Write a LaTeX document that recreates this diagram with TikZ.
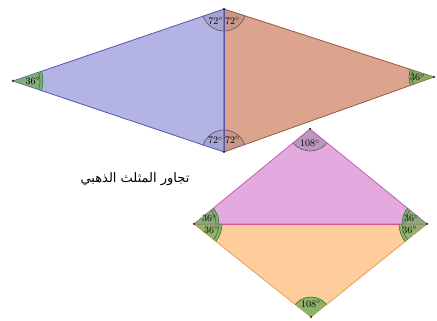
\documentclass[tikz,border=0pt]{standalone}
\usepackage{fontspec}
\usepackage{tikz}
\usetikzlibrary{angles,quotes}
\TeXXeTstate=1
\newfontfamily\arabicfont[Script=Arabic]{DejaVu Sans}
\definecolor{blueFill}{RGB}{180,180,228}
\definecolor{blueEdge}{RGB}{85,85,175}
\definecolor{brownFill}{RGB}{220,164,142}
\definecolor{brownEdge}{RGB}{150,90,60}
\definecolor{pinkFill}{RGB}{226,170,222}
\definecolor{pinkEdge}{RGB}{195,95,175}
\definecolor{pinkMid}{RGB}{220,80,160}
\definecolor{orangeFill}{RGB}{255,205,156}
\definecolor{orangeEdge}{RGB}{228,160,90}
\definecolor{greenFill}{RGB}{112,170,92}
\definecolor{greenEdge}{RGB}{45,115,45}
\definecolor{grayEdge}{RGB}{85,85,105}

\begin{document}
\begin{tikzpicture}[x=1pt, y=1pt,
    tri/.style={line width=0.8pt, line join=round},
    deg/.style={angle radius=#1, pic text options={font=\fontsize{3}{3.5}\selectfont},
        angle eccentricity=0.66},
    deg72/.style={deg=#1, draw=grayEdge, line width=0.6pt, fill=grayEdge, fill opacity=0.15,
        text opacity=1, pic text options={text=grayEdge}},
    deg108/.style={deg=#1, draw=grayEdge, line width=0.6pt, fill=grayEdge, fill opacity=0.25,
        text opacity=1, pic text options={text=grayEdge}},
    deg36/.style={deg=#1, draw=greenEdge, line width=0.6pt, fill=greenFill, fill opacity=0.75,
        text opacity=1, pic text options={text=greenEdge}},
    arcline/.style={angle radius=#1, draw=greenEdge, line width=0.6pt},
    pt/.style={circle, fill=black!80, inner sep=0pt, minimum size=2.5pt}]
\useasboundingbox (0,0) rectangle (437,321);

% golden triangles (top kite)
\coordinate (L) at (13,240);
\coordinate (T) at (224,312);
\coordinate (B) at (224,169);
\coordinate (R) at (434,244);
% golden gnomons (bottom kite)
\coordinate (K)  at (310,192);
\coordinate (KL) at (194,97);
\coordinate (KR) at (427,97);
\coordinate (KB) at (311,4);

\filldraw[tri, fill=blueFill, draw=blueEdge] (L) -- (T) -- (B) -- cycle;
\filldraw[tri, fill=brownFill, draw=brownEdge] (T) -- (R) -- (B) -- cycle;
\draw[tri, blueEdge] (T) -- (B);
\filldraw[tri, fill=orangeFill, draw=orangeEdge] (KL) -- (KB) -- (KR) -- cycle;
\filldraw[tri, fill=pinkFill, draw=pinkEdge] (KL) -- (K) -- (KR) -- cycle;
\draw[tri, pinkMid] (KL) -- (KR);

% angles
\pic[deg72=22pt, "$72^\circ$"] {angle=L--T--B};
\pic[deg72=22pt, "$72^\circ$"] {angle=B--T--R};
\pic[deg72=22pt, "$72^\circ$"] {angle=T--B--L};
\pic[deg72=22pt, "$72^\circ$"] {angle=R--B--T};
\pic[deg36=30pt, "$36^\circ$"] {angle=B--L--T};
\pic[arcline=27pt] {angle=B--L--T};
\pic[deg36=25pt, "$36^\circ$"] {angle=T--R--B};
\pic[arcline=22pt] {angle=T--R--B};
\pic[deg108=22pt, "$108^\circ$"] {angle=KL--K--KR};
\pic[deg36=25pt, "$36^\circ$"] {angle=KR--KL--K};
\pic[arcline=22pt] {angle=KR--KL--K};
\pic[deg36=28pt, "$36^\circ$"] {angle=KB--KL--KR};
\pic[arcline=25pt] {angle=KB--KL--KR};
\pic[deg36=25pt, "$36^\circ$"] {angle=K--KR--KL};
\pic[arcline=22pt] {angle=K--KR--KL};
\pic[deg36=28pt, "$36^\circ$"] {angle=KL--KR--KB};
\pic[arcline=25pt] {angle=KL--KR--KB};
\pic[deg36=20pt, fill opacity=0.8, "$108^\circ$"] {angle=KR--KB--KL};

\foreach \v in {L,T,B,R,K,KL,KR,KB}
    \node[pt] (dot-\v) at (\v) {};

\node[anchor=east, font=\arabicfont\fontsize{13}{15}\selectfont] (title) at (193,142)
    {\beginR تجاور المثلث الذهبي\endR};
\end{tikzpicture}
\end{document}
